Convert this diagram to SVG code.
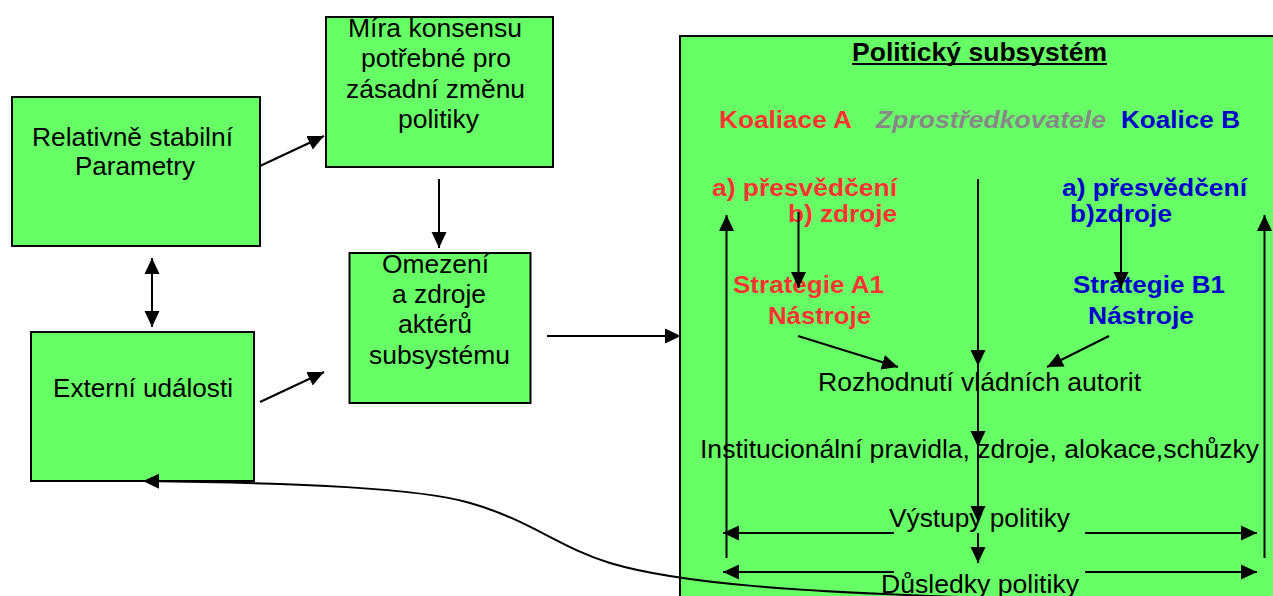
<svg xmlns="http://www.w3.org/2000/svg" width="1273" height="596" viewBox="0 0 1273 596">
  <style>
    .box { fill: #66FF66; stroke: #000; stroke-width: 2; }
    .t { font-family: "Liberation Sans", Arial, sans-serif; font-size: 25px; fill: #000; }
    .b { font-family: "Liberation Sans", Arial, sans-serif; font-weight: bold; }
    .red { fill: #FF3333; }
    .blue { fill: #0000CC; }
    .grey { fill: #888888; font-style: italic; }
    .ln { stroke: #000; stroke-width: 2; fill: none; }
    .arr { marker-end: url(#ah); }
    .arr2 { marker-start: url(#ah); marker-end: url(#ah); }
  </style>
  <defs>
    <marker id="ah" markerUnits="userSpaceOnUse" markerWidth="16" markerHeight="16" refX="16" refY="8" orient="auto-start-reverse">
      <path d="M0,0.5 L16,8 L0,15.5 z" fill="#000"/>
    </marker>
  </defs>

  <rect width="1273" height="596" fill="#fff"/>

  <!-- policy subsystem frame -->
  <g id="subsystem">
    <rect class="box" x="680" y="36" width="700" height="620"/>
    <text class="b" x="852" y="61" font-size="25" textLength="255" lengthAdjust="spacingAndGlyphs">Politický subsystém</text>
    <line x1="852" y1="64" x2="1107" y2="64" stroke="#000" stroke-width="1.8"/>
    <text class="b red" x="719" y="128" font-size="23" textLength="133" lengthAdjust="spacingAndGlyphs">Koaliace A</text>
    <text class="b grey" x="876" y="128" font-size="23" textLength="230" lengthAdjust="spacingAndGlyphs">Zprostředkovatele</text>
    <text class="b blue" x="1121" y="128" font-size="23" textLength="119" lengthAdjust="spacingAndGlyphs">Koalice B</text>
  </g>

  <g id="coalitionA">
    <text class="b red" x="712" y="196" font-size="23" textLength="185" lengthAdjust="spacingAndGlyphs">a) přesvědčení</text>
    <text class="b red" x="788" y="222" font-size="23" textLength="109" lengthAdjust="spacingAndGlyphs">b) zdroje</text>
    <text class="b red" x="733" y="293" font-size="24" textLength="151" lengthAdjust="spacingAndGlyphs">Strategie A1</text>
    <text class="b red" x="768" y="324" font-size="24" textLength="103" lengthAdjust="spacingAndGlyphs">Nástroje</text>
  </g>

  <g id="coalitionB">
    <text class="b blue" x="1062" y="196" font-size="23" textLength="185" lengthAdjust="spacingAndGlyphs">a) přesvědčení</text>
    <text class="b blue" x="1070" y="222" font-size="23" textLength="102" lengthAdjust="spacingAndGlyphs">b)zdroje</text>
    <text class="b blue" x="1073" y="293" font-size="24" textLength="152" lengthAdjust="spacingAndGlyphs">Strategie B1</text>
    <text class="b blue" x="1088" y="324" font-size="24" textLength="106" lengthAdjust="spacingAndGlyphs">Nástroje</text>
  </g>

  <g id="decision">
    <text class="t" x="818" y="391" textLength="323" lengthAdjust="spacingAndGlyphs">Rozhodnutí vládních autorit</text>
  </g>
  <g id="rules">
    <text class="t" x="700" y="458" textLength="559" lengthAdjust="spacingAndGlyphs">Institucionální pravidla, zdroje, alokace,schůzky</text>
  </g>
  <g id="outputs">
    <text class="t" x="889" y="527" textLength="181" lengthAdjust="spacingAndGlyphs">Výstupy politiky</text>
  </g>
  <g id="impacts">
    <text class="t" x="881" y="593" textLength="198" lengthAdjust="spacingAndGlyphs">Důsledky politiky</text>
  </g>

  <!-- outer boxes -->
  <g id="stableParameters">
    <rect class="box" x="12" y="97" width="248" height="149"/>
    <text class="t" x="32" y="146" textLength="201" lengthAdjust="spacingAndGlyphs">Relativně stabilní</text>
    <text class="t" x="75" y="175" textLength="120" lengthAdjust="spacingAndGlyphs">Parametry</text>
  </g>

  <g id="consensus">
    <rect class="box" x="326" y="17" width="227" height="150"/>
    <text class="t" x="348" y="37" textLength="174" lengthAdjust="spacingAndGlyphs">Míra konsensu</text>
    <text class="t" x="361" y="67" textLength="150" lengthAdjust="spacingAndGlyphs">potřebné pro</text>
    <text class="t" x="346" y="98" textLength="179" lengthAdjust="spacingAndGlyphs">zásadní změnu</text>
    <text class="t" x="398" y="128" textLength="81" lengthAdjust="spacingAndGlyphs">politiky</text>
  </g>

  <g id="constraints">
    <rect class="box" x="349.5" y="253" width="181" height="150"/>
    <text class="t" x="382" y="273" textLength="107" lengthAdjust="spacingAndGlyphs">Omezení</text>
    <text class="t" x="392" y="303" textLength="94" lengthAdjust="spacingAndGlyphs">a zdroje</text>
    <text class="t" x="398" y="333" textLength="74" lengthAdjust="spacingAndGlyphs">aktérů</text>
    <text class="t" x="369" y="364" textLength="141" lengthAdjust="spacingAndGlyphs">subsystému</text>
  </g>

  <g id="externalEvents">
    <rect class="box" x="31" y="332" width="223" height="149"/>
    <text class="t" x="53" y="397" textLength="180" lengthAdjust="spacingAndGlyphs">Externí události</text>
  </g>

  <!-- connectors -->
  <g id="connectors">
    <line class="ln arr" x1="260" y1="166" x2="324" y2="136"/>
    <line class="ln arr" x1="439" y1="179" x2="439" y2="248"/>
    <line class="ln arr2" x1="152" y1="258" x2="152" y2="327"/>
    <line class="ln arr" x1="260" y1="402" x2="324" y2="372"/>
    <line class="ln arr" x1="547" y1="336" x2="681" y2="336"/>

    <!-- feedback from impacts to external events -->
    <path class="ln" marker-start="url(#ah)" d="M 143 481 C 300 483, 420 488, 470 503 C 530 520, 560 548, 610 563 C 680 584, 800 592, 990 598"/>

    <!-- centre flow -->
    <line class="ln arr" x1="978" y1="179" x2="978" y2="366"/>
    <line class="ln arr" x1="978" y1="366" x2="978" y2="447"/>
    <line class="ln arr" x1="978" y1="447" x2="978" y2="522"/>
    <line class="ln arr" x1="978" y1="533" x2="978" y2="563"/>

    <!-- coalition flows -->
    <line class="ln arr" x1="798.5" y1="212" x2="798.5" y2="288"/>
    <line class="ln arr" x1="1121" y1="212" x2="1121" y2="288"/>
    <line class="ln arr" x1="798" y1="336" x2="898" y2="367"/>
    <line class="ln arr" x1="1109" y1="336" x2="1047" y2="367"/>

    <!-- feedback sides -->
    <line class="ln arr" x1="726.5" y1="558" x2="726.5" y2="215"/>
    <line class="ln arr" x1="1264.5" y1="558" x2="1264.5" y2="215"/>

    <!-- outputs / impacts spread -->
    <line class="ln arr" x1="894" y1="533" x2="723" y2="533"/>
    <line class="ln arr" x1="1085" y1="533" x2="1257" y2="533"/>
    <line class="ln arr" x1="894" y1="572" x2="723" y2="572"/>
    <line class="ln arr" x1="1085" y1="572" x2="1257" y2="572"/>
  </g>
</svg>
